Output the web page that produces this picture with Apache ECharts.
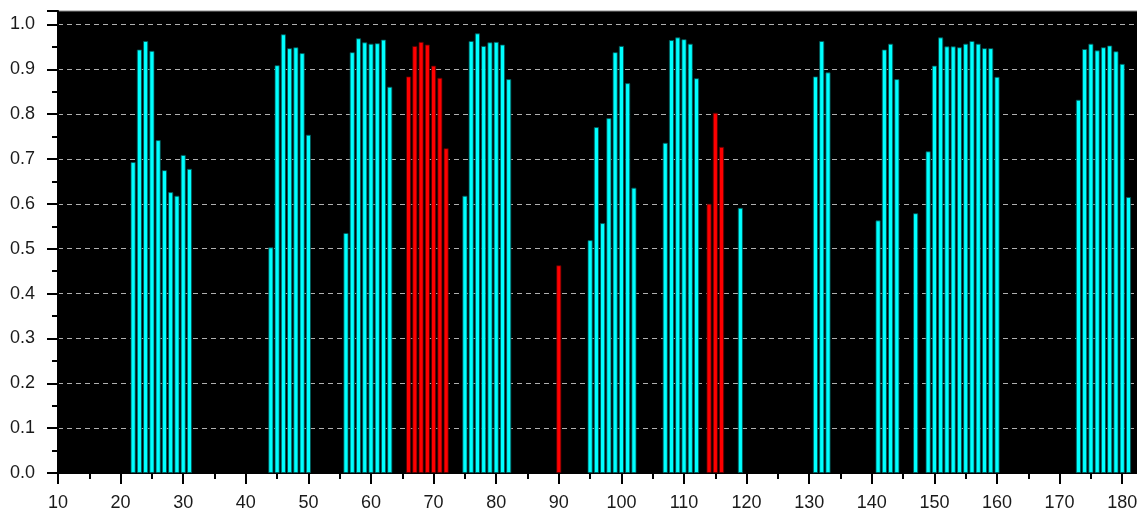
<!DOCTYPE html>
<html>
<head>
<meta charset="utf-8">
<script src="https://cdn.jsdelivr.net/npm/echarts@6/dist/echarts.min.js"></script>
<style>
  html, body { margin: 0; padding: 0; background: #fff; }
  #chart { width: 1137px; height: 513px; }
</style>
</head>
<body>
<div id="chart"></div>
<script>
// cyan bars: position -> value
var cyanX = [22, 23, 24, 25, 26, 27, 28, 29, 30, 31,
  44, 45, 46, 47, 48, 49, 50,
  56, 57, 58, 59, 60, 61, 62, 63,
  75, 76, 77, 78, 79, 80, 81, 82,
  95, 96, 97, 98, 99, 100, 101, 102,
  107, 108, 109, 110, 111, 112,
  119,
  131, 132, 133,
  141, 142, 143, 144,
  147,
  149, 150, 151, 152, 153, 154, 155, 156, 157, 158, 159, 160,
  173, 174, 175, 176, 177, 178, 179, 180, 181];
var cyanY = [0.693, 0.944, 0.963, 0.941, 0.742, 0.675, 0.626, 0.618, 0.709, 0.678,
  0.503, 0.909, 0.978, 0.947, 0.949, 0.936, 0.754,
  0.535, 0.938, 0.969, 0.960, 0.957, 0.958, 0.966, 0.861,
  0.618, 0.963, 0.980, 0.952, 0.960, 0.961, 0.955, 0.878,
  0.519, 0.771, 0.557, 0.791, 0.938, 0.952, 0.869, 0.636,
  0.736, 0.965, 0.971, 0.967, 0.957, 0.880,
  0.591,
  0.884, 0.963, 0.893,
  0.563, 0.944, 0.957, 0.878,
  0.579,
  0.717, 0.908, 0.971, 0.951, 0.951, 0.949, 0.957, 0.963, 0.957, 0.947, 0.947, 0.883,
  0.832, 0.945, 0.957, 0.942, 0.949, 0.953, 0.940, 0.912, 0.615];

// red bars
var redX = [66, 67, 68, 69, 70, 71, 72, 90, 114, 115, 116];
var redY = [0.884, 0.952, 0.961, 0.955, 0.908, 0.881, 0.724, 0.463, 0.600, 0.803, 0.727];

function pairs(xs, ys) {
  var out = [];
  for (var i = 0; i < xs.length; i++) out.push([xs[i], ys[i]]);
  return out;
}

var myChart = echarts.init(document.getElementById('chart'));

myChart.setOption({
  backgroundColor: '#ffffff',
  animation: false,
  grid: {
    left: 58, top: 11, width: 1083, height: 462,
    outerBoundsMode: 'none',
    show: true,
    backgroundColor: '#000000',
    borderColor: '#8a8a8a',
    borderWidth: 1
  },
  xAxis: {
    type: 'value',
    min: 10, max: 183, interval: 10,
    axisLine: { show: true, onZero: false, lineStyle: { color: '#000', width: 2 } },
    axisTick: { show: true, length: 11, lineStyle: { color: '#000', width: 2 } },
    minorTick: { show: true, splitNumber: 2, length: 6, lineStyle: { color: '#000', width: 2 } },
    axisLabel: {
      margin: 21,
      color: '#1a1a1a', fontSize: 18, fontFamily: 'Arial',
      formatter: function (v) { return v > 182 ? '' : String(v); }
    },
    splitLine: { show: false }
  },
  yAxis: {
    type: 'value',
    min: 0, max: 1.03, interval: 0.1,
    axisLine: { show: true, onZero: false, lineStyle: { color: '#000', width: 2 } },
    axisTick: { show: true, length: 11, lineStyle: { color: '#000', width: 2 } },
    minorTick: { show: true, splitNumber: 2, length: 6, lineStyle: { color: '#000', width: 2 } },
    axisLabel: {
      margin: 23,
      color: '#1a1a1a', fontSize: 18, fontFamily: 'Arial',
      formatter: function (v) { return v > 1.01 ? '' : v.toFixed(1); }
    },
    splitLine: {
      show: true, showMinLine: false, showMaxLine: false,
      lineStyle: { color: '#b0b0b0', type: [5, 4], width: 1 }
    }
  },
  series: [
    {
      name: 'cyan',
      type: 'bar',
      barWidth: 5,
      barGap: '-100%',
      itemStyle: { color: '#00ffff', borderColor: '#005050', borderWidth: 0.8 },
      data: pairs(cyanX, cyanY)
    },
    {
      name: 'red',
      type: 'bar',
      barWidth: 5,
      barGap: '-100%',
      itemStyle: { color: '#ff0000', borderColor: '#500000', borderWidth: 0.8 },
      data: pairs(redX, redY)
    }
  ]
});
</script>
</body>
</html>
